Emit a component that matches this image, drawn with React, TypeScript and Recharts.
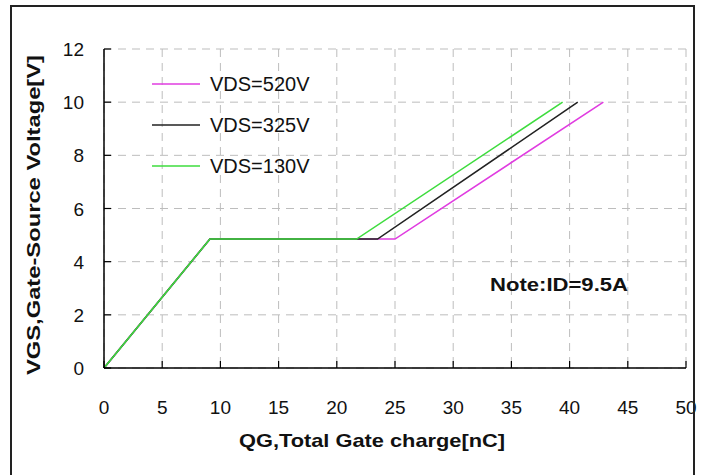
import { LineChart, Line, XAxis, YAxis, CartesianGrid, Customized } from "recharts";

const xTicks = [0, 5, 10, 15, 20, 25, 30, 35, 40, 45, 50];
const yTicks = [0, 2, 4, 6, 8, 10, 12];

// gate charge (nC) / gate-source voltage (V) per drain voltage
const qg520 = [0, 9.1, 25.0, 42.9];
const vgs520 = [0, 4.85, 4.85, 10];
const qg325 = [0, 9.1, 23.5, 40.7];
const vgs325 = [0, 4.85, 4.85, 10];
const qg130 = [0, 9.1, 21.7, 39.4];
const vgs130 = [0, 4.85, 4.85, 10];

const seriesNames = ["VDS=520V", "VDS=325V", "VDS=130V"];
const seriesColors = ["#e03ce0", "#222222", "#3edc3e"];

const toPoints = (xs: number[], ys: number[]) => xs.map((x, i) => ({ x, y: ys[i] }));
const series = [toPoints(qg520, vgs520), toPoints(qg325, vgs325), toPoints(qg130, vgs130)];

const FONT = "'Liberation Sans', Arial, sans-serif";

function XTick(props: any) {
  const { x, y, payload } = props;
  return (
    <g>
      <line x1={x} y1={y} x2={x} y2={y - 7} stroke="#000" strokeWidth={1.2} />
      <text x={x} y={y + 46} textAnchor="middle" fontSize={19} fontFamily={FONT} fill="#111">
        {payload.value}
      </text>
    </g>
  );
}

function YTick(props: any) {
  const { x, y, payload } = props;
  return (
    <g>
      <line x1={x} y1={y} x2={x + 7} y2={y} stroke="#000" strokeWidth={1.2} />
      <text x={x - 20} y={y + 7} textAnchor="end" fontSize={19} fontFamily={FONT} fill="#111">
        {payload.value}
      </text>
    </g>
  );
}

function Legendish() {
  return (
    <g>
      {seriesNames.map((name, i) => (
        <g key={name}>
          <line x1={152} x2={200} y1={84 + i * 41} y2={84 + i * 41} stroke={seriesColors[i]} strokeWidth={1.5} />
          <text x={210} y={91 + i * 41} fontSize={20} fontFamily={FONT} fill="#111">
            {name}
          </text>
        </g>
      ))}
      <text x={559} y={291} textAnchor="middle" fontSize={19} fontWeight="bold" fontFamily={FONT} fill="#111" textLength={138} lengthAdjust="spacingAndGlyphs">
        Note:ID=9.5A
      </text>
      <text x={372} y={447} textAnchor="middle" fontSize={19} fontWeight="bold" fontFamily={FONT} fill="#111" textLength={266} lengthAdjust="spacingAndGlyphs">
        QG,Total Gate charge[nC]
      </text>
      <text
        x={0}
        y={0}
        transform="translate(40,215) rotate(-90)"
        textAnchor="middle"
        fontSize={19}
        fontWeight="bold"
        fontFamily={FONT}
        fill="#111"
        textLength={320}
        lengthAdjust="spacingAndGlyphs"
      >
        VGS,Gate-Source Voltage[V]
      </text>
    </g>
  );
}

export default function App() {
  return (
    <div style={{ position: "absolute", left: 0, top: 0, width: 710, height: 475, background: "#fff", overflow: "hidden" }}>
      <LineChart width={710} height={475} margin={{ top: 49, right: 24, bottom: 0, left: 0 }}>
        <CartesianGrid stroke="#bdbdbd" strokeDasharray="8 6" horizontalValues={yTicks} verticalValues={xTicks} />
        <XAxis
          type="number"
          dataKey="x"
          domain={[0, 50]}
          ticks={xTicks}
          interval={0}
          allowDuplicatedCategory={false}
          axisLine={{ stroke: "#000", strokeWidth: 1.5 }}
          tickLine={false}
          tickSize={0}
          tickMargin={0}
          tick={<XTick />}
          height={107}
        />
        <YAxis
          type="number"
          dataKey="y"
          domain={[0, 12]}
          ticks={yTicks}
          interval={0}
          axisLine={{ stroke: "#000", strokeWidth: 1.5 }}
          tickLine={false}
          tickSize={0}
          tickMargin={0}
          tick={<YTick />}
          width={104}
        />
        {series.map((pts, i) => (
          <Line
            key={seriesNames[i]}
            data={pts}
            dataKey="y"
            name={seriesNames[i]}
            type="linear"
            stroke={seriesColors[i]}
            strokeWidth={1.6}
            dot={false}
            activeDot={false}
            isAnimationActive={false}
          />
        ))}
        <Customized component={Legendish} />
      </LineChart>
      <div
        style={{
          position: "absolute",
          left: 10,
          top: 5,
          width: 685,
          height: 490,
          border: "2px solid #222",
          boxSizing: "border-box",
          pointerEvents: "none",
        }}
      />
    </div>
  );
}
